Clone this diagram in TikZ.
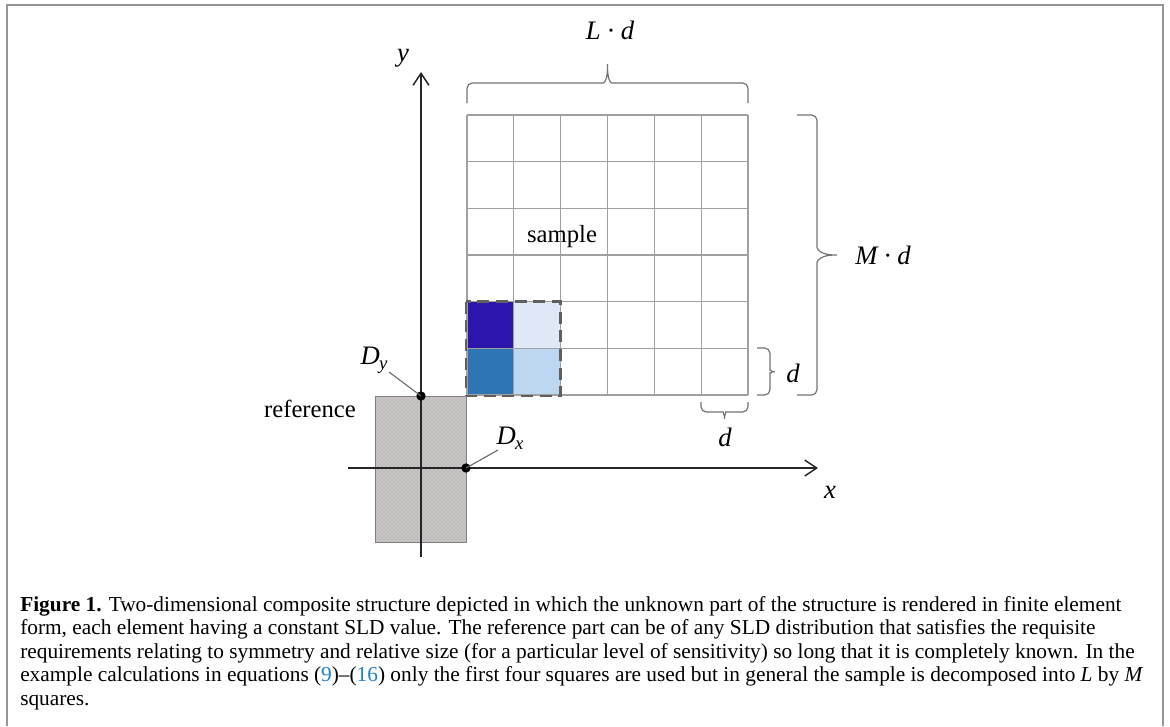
\documentclass[tikz,border=0pt]{standalone}
\usepackage{fontspec}
\setmainfont{Liberation Serif}
\usetikzlibrary{arrows.meta,patterns}
\definecolor{framegray}{RGB}{150,150,150}
\definecolor{gridgray}{RGB}{160,160,160}
\definecolor{refgray}{RGB}{192,187,187}
\definecolor{sqdark}{RGB}{42,22,172}
\definecolor{sqmid}{RGB}{46,117,182}
\definecolor{sqpale}{RGB}{222,232,246}
\definecolor{sqlight}{RGB}{190,215,240}
\definecolor{dashgray}{RGB}{95,95,95}
\definecolor{linkblue}{RGB}{30,130,200}
\begin{document}
\begin{tikzpicture}[x=0.75pt,y=-0.75pt,
  framel/.style={draw=framegray,line width=1.5pt},
  gridl/.style={draw=gridgray,line width=0.8pt},
  axisl/.style={draw=black!85,line width=1.1pt,-{Straight Barb[length=9pt,width=12pt,line width=1.1pt]}},
  bracel/.style={draw=black!55,line width=0.9pt,rounded corners=4pt},
  leader/.style={draw=black!60,line width=0.8pt},
  dotn/.style={circle,fill=black,inner sep=0pt,minimum size=7pt},
  lbl/.style={font=\fontsize{18.5}{20}\selectfont,inner sep=0pt},
  mlbl/.style={font=\fontsize{20}{22}\selectfont\itshape,inner sep=0pt},
  captxt/.style={anchor=base west,inner sep=0pt,font=\fontsize{16}{18}\selectfont},
]
\useasboundingbox (0,0) rectangle (1170,726);
% frame
\draw[framel] (7,726) -- (7,5) -- (1163,5) -- (1163,726);
% colored squares
\fill[sqdark]  (467,301.67) rectangle (513.83,348.33);
\fill[sqpale]  (513.83,301.67) rectangle (560.67,348.33);
\fill[sqmid]   (467,348.33) rectangle (513.83,395);
\fill[sqlight] (513.83,348.33) rectangle (560.67,395);
% grid
\foreach \i in {0,...,6}{
  \draw[gridl] (467+\i*46.833,115) -- ++(0,280);
  \draw[gridl] (467,115+\i*46.667) -- ++(281,0);
}
\draw[draw=dashgray,line width=2.2pt,dash pattern=on 9pt off 5pt] (466,301.67) rectangle (560.67,396);
% reference block
\fill[refgray] (375,396) rectangle (466,542);
\fill[pattern=crosshatch dots,pattern color=white!75!refgray] (375,396) rectangle (466,542);
\draw[draw=gray,line width=0.6pt] (375,396) rectangle (466,542);
% axes
\coordinate (yb) at (421,557);
\coordinate (yt) at (421,72);
\coordinate (xl) at (348,468);
\coordinate (xr) at (818,468);
\draw[axisl] (yb) -- (yt);
\draw[axisl] (xl) -- (xr);
\node[mlbl] (ylab) at (403,58) {y};
\node[mlbl] (xlab) at (830,492) {x};
% points
\node[dotn] (Dy) at (421,396) {};
\node[dotn] (Dx) at (466,468) {};
\node[mlbl] (Dylab) at (374,360) {D\kern-0.5pt\raisebox{-4pt}{\fontsize{14}{14}\selectfont y}};
\node[mlbl] (Dxlab) at (510,438) {D\kern-0.5pt\raisebox{-4pt}{\fontsize{14}{14}\selectfont x}};
\coordinate (DyL) at (389,372);
\coordinate (DxL) at (498,450);
\draw[leader] (DyL) -- (Dy.center);
\draw[leader] (DxL) -- (Dx.center);
% texts
\node[lbl] (ref) at (310,409) {reference};
\node[lbl] (sam) at (562,237) {sample};
% top brace
\draw[bracel] (467,103) -- (467,83) -- (598,83) .. controls (605,83) and (607.5,78) .. (607.5,61)
  .. controls (607.5,78) and (610,83) .. (617,83) -- (748,83) -- (748,103);
\node[mlbl] (Ld) at (610,30) {L · d};
% right big brace
\draw[bracel] (797,115) -- (817,115) -- (817,242) .. controls (817,250) and (822,255) .. (840,255)
  .. controls (822,255) and (817,260) .. (817,268) -- (817,395) -- (797,395);
\node[mlbl,anchor=west] (Md) at (855,255) {M · d};
% small right brace
\draw[bracel] (757,348) -- (770,348) -- (770,365) .. controls (770,369) and (772,371.7) .. (778,371.7)
  .. controls (772,371.7) and (770,374) .. (770,378) -- (770,395) -- (757,395);
\node[mlbl] (d1) at (793,373) {d};
% bottom brace
\draw[bracel] (701,402) -- (701,412) -- (718,412) .. controls (722,412) and (724.5,414) .. (724.5,422)
  .. controls (724.5,414) and (727,412) .. (731,412) -- (748,412) -- (748,402);
\node[mlbl] (d2) at (725,437) {d};
% caption
\node[captxt] (c1) at (20,611) {\textbf{Figure 1.} Two-dimensional composite structure depicted in which the unknown part of the structure is rendered in finite element};
\node[captxt] (c2) at (20,634.5) {form, each element having a constant SLD value. The reference part can be of any SLD distribution that satisfies the requisite};
\node[captxt] (c3) at (20,658) {requirements relating to symmetry and relative size (for a particular level of sensitivity) so long that it is completely known. In the};
\node[captxt] (c4) at (20,681.5) {example calculations in equations ({\color{linkblue}9})–({\color{linkblue}16}) only the first four squares are used but in general the sample is decomposed into \textit{L} by \textit{M}};
\node[captxt] (c5) at (20,705) {squares.};
\end{tikzpicture}
\end{document}
